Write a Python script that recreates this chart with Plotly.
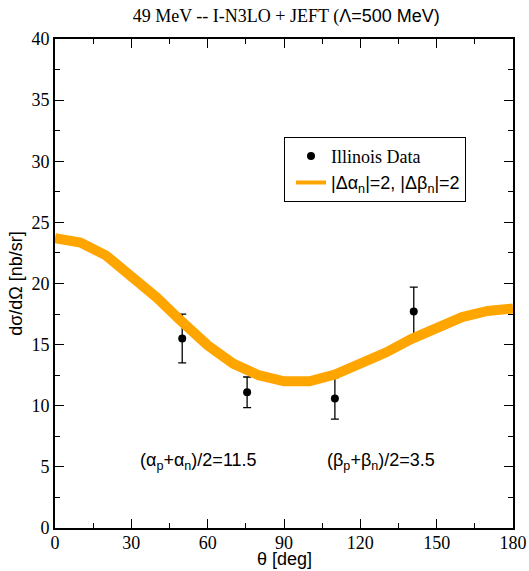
import plotly.graph_objects as go

# Data points (Illinois)
theta_data = [50.0, 75.5, 110.0, 141.0]
xs_data = [15.5, 11.1, 10.6, 17.7]
xs_err = [2.0, 1.25, 1.7, 2.0]

# Theory band centre line
theta_curve = [0, 10, 20, 30, 40, 50, 60, 70, 80, 90, 100, 110, 120, 130, 140, 150, 160, 170, 180]
xs_curve = [23.7, 23.35, 22.3, 20.65, 18.85, 16.85, 14.95, 13.45, 12.5, 12.0, 12.0, 12.55, 13.35, 14.35, 15.45, 16.45, 17.25, 17.75, 17.95]

SERIF = "Liberation Serif"
SANS = "Liberation Sans"
FS = 18

fig = go.Figure()

fig.add_trace(go.Scatter(
    x=theta_data, y=xs_data, mode="markers",
    marker=dict(color="black", size=8),
    error_y=dict(type="data", array=xs_err, color="black", thickness=1.3, width=4),
    name="Illinois Data", legendrank=1,
))

fig.add_trace(go.Scatter(
    x=theta_curve, y=xs_curve, mode="lines",
    line=dict(color="#FFA500", width=10),
    showlegend=False, hoverinfo="skip",
))

fig.add_trace(go.Scatter(
    x=[None], y=[None], mode="lines",
    line=dict(color="#FFA500", width=4),
    name="<span style='font-family:Liberation Sans'>|Δα<sub>n</sub>|=2, |Δβ<sub>n</sub>|=2</span>",
    legendrank=2,
))

axis_common = dict(
    showline=True, linecolor="black", linewidth=2, mirror="ticks",
    ticks="inside", ticklen=9, tickwidth=1.3, tickcolor="black",
    showgrid=False, zeroline=False, automargin=False,
    tickfont=dict(family=SERIF, size=FS, color="black"),
)

fig.update_xaxes(
    range=[0, 180], tickmode="array", tickvals=[0, 30, 60, 90, 120, 150, 180],
    minor=dict(tickvals=[15, 45, 75, 105, 135, 165], ticks="inside", ticklen=5, tickwidth=1.3, tickcolor="black"),
    ticklabelstandoff=-3,
    **axis_common,
)
fig.update_yaxes(
    range=[0, 40], tickmode="array", tickvals=[0, 5, 10, 15, 20, 25, 30, 35, 40],
    minor=dict(tickvals=[2.5, 7.5, 12.5, 17.5, 22.5, 27.5, 32.5, 37.5], ticks="inside", ticklen=5, tickwidth=1.3, tickcolor="black"),
    title=dict(text="dσ/dΩ [nb/sr]", font=dict(family=SANS, size=FS, color="black"), standoff=4),
    **axis_common,
)

# x-axis title placed as an annotation just under the tick labels
fig.add_annotation(x=0.5, y=-0.063, xref="paper", yref="paper", xanchor="center", yanchor="middle",
                   text="θ [deg]", showarrow=False,
                   font=dict(family=SANS, size=FS, color="black"))

fig.add_annotation(x=0.181, y=0.135, xref="paper", yref="paper", xanchor="left", yanchor="middle",
                   text="(α<sub>p</sub>+α<sub>n</sub>)/2=11.5", showarrow=False,
                   font=dict(family=SANS, size=FS, color="black"))
fig.add_annotation(x=0.59, y=0.135, xref="paper", yref="paper", xanchor="left", yanchor="middle",
                   text="(β<sub>p</sub>+β<sub>n</sub>)/2=3.5", showarrow=False,
                   font=dict(family=SANS, size=FS, color="black"))

fig.update_layout(
    width=529, height=571,
    margin=dict(l=55, r=16, t=39, b=43),
    paper_bgcolor="white", plot_bgcolor="white",
    title=dict(
        text="49 MeV -- I-N3LO + JEFT (<span style='font-family:Liberation Sans'>Λ=500 MeV)</span>",
        font=dict(family=SERIF, size=FS, color="black"),
        x=0.541, xanchor="center", y=0.972, yanchor="middle",
    ),
    legend=dict(
        x=0.5, y=0.8, xanchor="left", yanchor="top",
        bgcolor="white", bordercolor="black", borderwidth=1,
        font=dict(family=SERIF, size=FS, color="black"),
        itemwidth=30, tracegroupgap=0, indentation=6,
    ),
    showlegend=True,
)

fig.write_html("out.html")
